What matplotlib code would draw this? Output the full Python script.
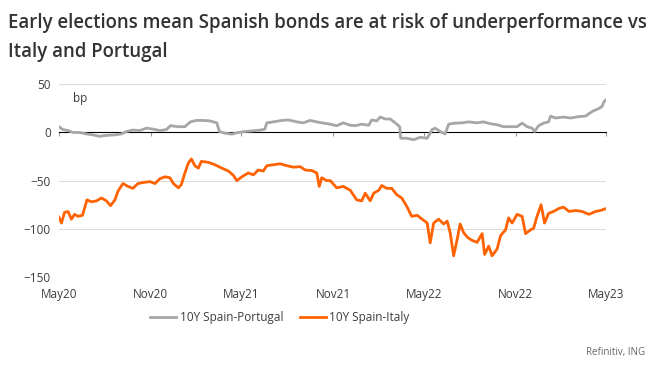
import matplotlib
matplotlib.use('Agg')
import matplotlib.pyplot as plt
import matplotlib.dates as mdates
import matplotlib.ticker as mticker
import pandas as pd

# 10Y Spain-Portugal spread, bp
PT_DATES = [
    '2020-05-01', '2020-05-09', '2020-05-19', '2020-05-29', '2020-06-11', '2020-06-25',
    '2020-07-08', '2020-07-21', '2020-08-04', '2020-08-21', '2020-09-03', '2020-09-13',
    '2020-09-26', '2020-10-10', '2020-10-23', '2020-11-05', '2020-11-19', '2020-12-02',
    '2020-12-10', '2020-12-26', '2021-01-08', '2021-01-19', '2021-01-31', '2021-02-14',
    '2021-02-27', '2021-03-13', '2021-03-18', '2021-03-29', '2021-04-12', '2021-04-25',
    '2021-05-08', '2021-05-25', '2021-06-11', '2021-06-17', '2021-06-21', '2021-07-04',
    '2021-07-21', '2021-08-03', '2021-08-20', '2021-09-02', '2021-09-16', '2021-09-29',
    '2021-10-12', '2021-10-22', '2021-11-08', '2021-11-21', '2021-12-05', '2021-12-15',
    '2021-12-28', '2022-01-11', '2022-01-17', '2022-01-27', '2022-02-03', '2022-02-13',
    '2022-02-23', '2022-03-05', '2022-03-14', '2022-03-16', '2022-03-28', '2022-04-11',
    '2022-04-24', '2022-05-08', '2022-05-18', '2022-05-24', '2022-06-03', '2022-06-13',
    '2022-06-20', '2022-07-03', '2022-07-17', '2022-07-30', '2022-08-16', '2022-08-29',
    '2022-09-12', '2022-09-25', '2022-10-08', '2022-10-22', '2022-11-04', '2022-11-14',
    '2022-11-24', '2022-12-04', '2022-12-09', '2022-12-17', '2022-12-27', '2023-01-06',
    '2023-01-10', '2023-01-20', '2023-02-05', '2023-02-19', '2023-03-08', '2023-03-21',
    '2023-04-03', '2023-04-17', '2023-04-23', '2023-04-27', '2023-05-01',
]
PT_SPREAD = [
    6, 3, 2, 0, 0, -1.5,
    -2.5, -4, -3, -2.5, -1.5, 1,
    2.5, 2, 4.5, 3.5, 2, 3,
    7, 6, 6, 11, 12.5, 12.5,
    12, 10, 1, -0.7, -1.7, 0,
    1, 1.7, 2.7, 3.5, 10, 11,
    12.5, 13, 11, 10, 12.5, 11,
    9.7, 9, 7, 10, 7.5, 7,
    8.6, 7.5, 13, 12, 16, 14,
    14, 10, 6, -6, -6, -7.5,
    -5, -6, 3, 4.5, 1, -1.5,
    8.6, 9.7, 10, 11, 10, 11,
    9, 8, 6, 6, 6, 9.7,
    6, 4.5, 1, 7, 9.7, 11,
    17, 15, 16, 15, 16.5, 17,
    21.7, 25, 27, 32, 34,
]

# 10Y Spain-Italy spread, bp
IT_DATES = [
    '2020-05-01', '2020-05-06', '2020-05-12', '2020-05-19', '2020-05-26', '2020-06-01',
    '2020-06-08', '2020-06-17', '2020-06-26', '2020-07-05', '2020-07-15', '2020-07-25',
    '2020-08-04', '2020-08-12', '2020-08-21', '2020-08-27', '2020-09-06', '2020-09-16',
    '2020-09-26', '2020-10-06', '2020-10-16', '2020-10-30', '2020-11-09', '2020-11-19',
    '2020-11-29', '2020-12-09', '2020-12-16', '2020-12-26', '2021-01-01', '2021-01-08',
    '2021-01-15', '2021-01-21', '2021-01-28', '2021-02-04', '2021-02-10', '2021-02-24',
    '2021-03-09', '2021-03-23', '2021-04-05', '2021-04-15', '2021-04-22', '2021-05-02',
    '2021-05-15', '2021-05-25', '2021-06-04', '2021-06-14', '2021-06-21', '2021-07-04',
    '2021-07-18', '2021-07-31', '2021-08-13', '2021-08-27', '2021-09-06', '2021-09-19',
    '2021-09-29', '2021-10-04', '2021-10-09', '2021-10-19', '2021-10-26', '2021-11-08',
    '2021-11-21', '2021-12-05', '2021-12-18', '2021-12-28', '2022-01-04', '2022-01-14',
    '2022-01-21', '2022-01-31', '2022-02-06', '2022-02-16', '2022-02-26', '2022-03-08',
    '2022-03-18', '2022-03-28', '2022-04-07', '2022-04-18', '2022-04-28', '2022-05-08',
    '2022-05-14', '2022-05-21', '2022-05-31', '2022-06-10', '2022-06-17', '2022-06-23',
    '2022-06-30', '2022-07-07', '2022-07-13', '2022-07-20', '2022-07-28', '2022-08-06',
    '2022-08-16', '2022-08-26', '2022-08-31', '2022-09-08', '2022-09-15', '2022-09-25',
    '2022-10-02', '2022-10-12', '2022-10-18', '2022-10-25', '2022-11-04', '2022-11-14',
    '2022-11-21', '2022-12-01', '2022-12-07', '2022-12-14', '2022-12-22', '2022-12-29',
    '2023-01-06', '2023-01-16', '2023-01-26', '2023-02-05', '2023-02-16', '2023-03-01',
    '2023-03-14', '2023-03-28', '2023-04-10', '2023-04-20', '2023-05-01',
]
IT_SPREAD = [
    -88, -94, -83, -82, -90, -85,
    -87, -86, -70, -72, -71, -68,
    -71, -76, -70, -61, -53, -56,
    -58, -53, -52, -51, -53, -48,
    -46, -47, -53, -57.5, -54, -42,
    -31.7, -27.5, -34.5, -37, -30, -31,
    -33.5, -37, -40, -44.5, -50, -46,
    -42, -44, -39, -40, -34.5, -33.5,
    -32.5, -34.5, -36, -35.5, -39, -39.5,
    -42, -56, -47, -50, -50, -57.5,
    -56, -60, -70, -71, -63, -71,
    -63, -60, -55, -58, -58, -64.5,
    -68, -76.5, -87, -86, -90, -94,
    -114.5, -94, -90, -95, -92, -104,
    -128, -111, -95, -104, -109, -112,
    -114, -105, -126.6, -118, -128, -121,
    -107, -101, -88.6, -94, -85, -87,
    -105, -101, -99.5, -87, -75, -94,
    -84, -82, -79, -77.5, -82, -81,
    -82, -85, -82, -81, -79,
]

X_TICKS = ['2020-05-01', '2020-11-01', '2021-05-01', '2021-11-01',
           '2022-05-01', '2022-11-01', '2023-05-01']
Y_TICKS = [50, 0, -50, -100, -150]

TITLE = 'Early elections mean Spanish bonds are at risk of underperformance vs\nItaly and Portugal'
GREY = '#a6a6a6'
ORANGE = '#ff6200'
TEXT = '#3c3c3c'

plt.rcParams['font.family'] = ['Open Sans', 'DejaVu Sans']

fig = plt.figure(figsize=(6.6, 3.74), dpi=100)
ax = fig.add_axes([0.0894, 0.2594, 0.8288, 0.5152])

pt_dates = pd.to_datetime(PT_DATES)
it_dates = pd.to_datetime(IT_DATES)
ticks = pd.to_datetime(X_TICKS)

ax.plot(pt_dates, PT_SPREAD, color=GREY, lw=2.0, label='10Y Spain-Portugal', zorder=3)
ax.plot(it_dates, IT_SPREAD, color=ORANGE, lw=2.0, label='10Y Spain-Italy', zorder=3)

ax.set_xlim(ticks[0], ticks[-1])
ax.set_ylim(-150, 50)
ax.set_yticks(Y_TICKS)
ax.set_xticks(ticks)
ax.xaxis.set_major_formatter(mdates.DateFormatter('%b%y'))

for v in Y_TICKS:
    if v != 0:
        ax.axhline(v, color='#dcdcdc', lw=0.8, zorder=1)

for s in ax.spines.values():
    s.set_visible(False)
ax.tick_params(axis='both', length=0, labelsize=8.5, colors=TEXT)
ax.tick_params(axis='x', pad=8)
ax.tick_params(axis='y', pad=6)

# zero line with small date ticks
zero = ax.secondary_xaxis(0.75)
zero.set_xticks(ticks)
zero.xaxis.set_major_formatter(mticker.NullFormatter())
zero.tick_params(length=3, width=0.8, color='#9a9a9a')
zero.spines['bottom'].set_color('#9a9a9a')
zero.spines['bottom'].set_linewidth(1.0)
zero.xaxis.set_ticks_position('bottom')

ax.text(0.025, 0.96, 'bp', transform=ax.transAxes, fontsize=8.5, color=TEXT, va='top')

fig.text(0.012, 0.965, TITLE, fontsize=13.4, fontweight='semibold', color='#333333',
         va='top', ha='left', linespacing=1.6)

leg = ax.legend(loc='upper center', bbox_to_anchor=(0.404, -0.12), ncol=2, frameon=False,
                fontsize=8.5, handlelength=2.2, handletextpad=0.3, columnspacing=1.4)
for t in leg.get_texts():
    t.set_color(TEXT)

fig.text(0.978, 0.058, 'Refinitiv, ING', fontsize=7, color='#666666', ha='right', va='center')

fig.savefig('out.png', dpi=100)
